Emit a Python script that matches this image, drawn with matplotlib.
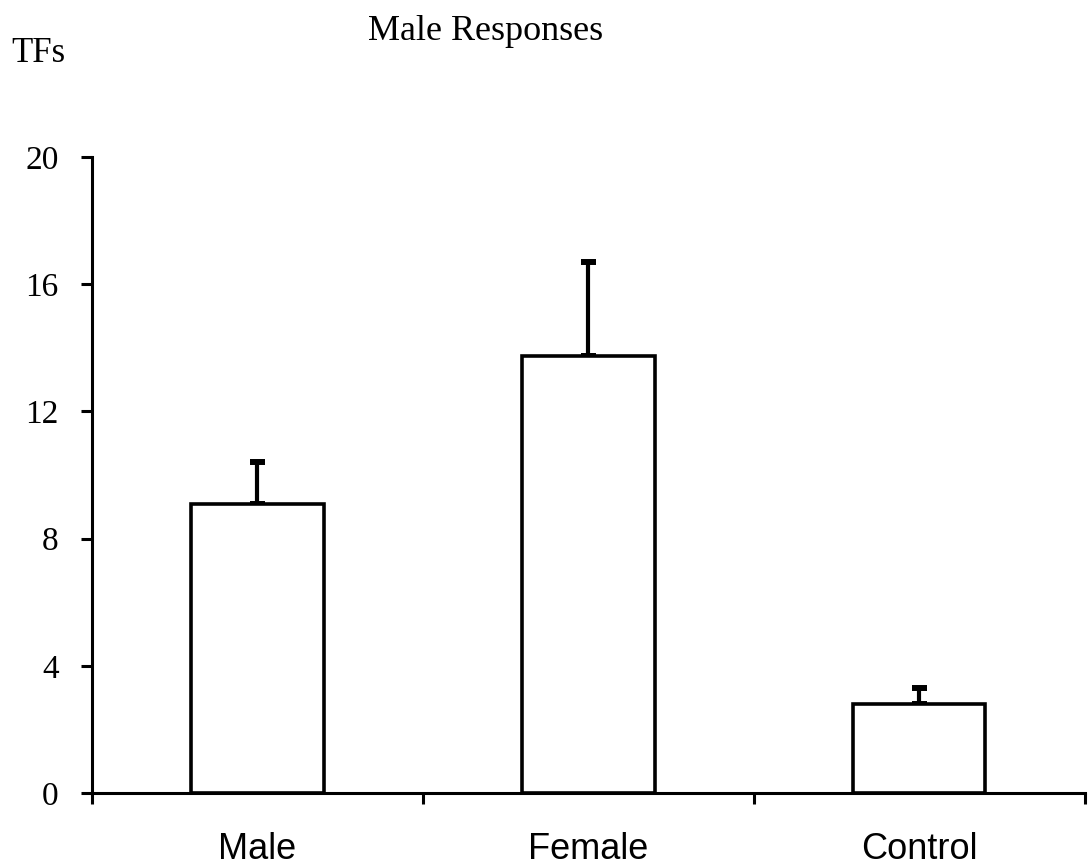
import matplotlib
matplotlib.use("Agg")
import matplotlib.pyplot as plt
import numpy as np

# values
categories = ["Male", "Female", "Control"]
means = [9.1, 13.75, 2.8]
errors = [1.3, 2.95, 0.5]
y_ticks = [0, 4, 8, 12, 16, 20]

fig = plt.figure(figsize=(10.88, 8.65), dpi=100)
ax = fig.add_axes([0.0846, 0.0832, 0.9124, 0.7353])

x = np.arange(len(categories)) + 0.5
ax.bar(x, means, width=0.4, color="white", edgecolor="black", linewidth=2.6, zorder=2)
ax.errorbar(x, means, yerr=[[0] * len(errors), errors], fmt="none", ecolor="black",
            elinewidth=3.0, capsize=5.4, capthick=4.3, zorder=1)

ax.set_xlim(0, 3)
ax.set_ylim(0, 20)
ax.set_yticks(y_ticks)
ax.set_yticklabels([str(t) for t in y_ticks], family="Liberation Serif", fontsize=24)
ax.set_xticks([0, 1, 2, 3])
ax.set_xticklabels([])
ax.set_xticks(x, minor=True)
ax.set_xticklabels(categories, minor=True, family="Liberation Sans", fontsize=26)
ax.tick_params(axis="x", which="minor", length=0, pad=28)
ax.tick_params(axis="x", which="major", length=8, width=2.2, direction="out")
ax.tick_params(axis="y", length=8, width=2.2, direction="out", pad=16)

for s in ["top", "right"]:
    ax.spines[s].set_visible(False)
for s in ["left", "bottom"]:
    ax.spines[s].set_linewidth(2.2)

fig.text(0.010, 0.928, "TFs", family="Liberation Serif", fontsize=25, va="baseline")
fig.text(0.4465, 0.954, "Male Responses", family="Liberation Serif", fontsize=26,
         ha="center", va="baseline")

fig.savefig("out.png", dpi=100)
